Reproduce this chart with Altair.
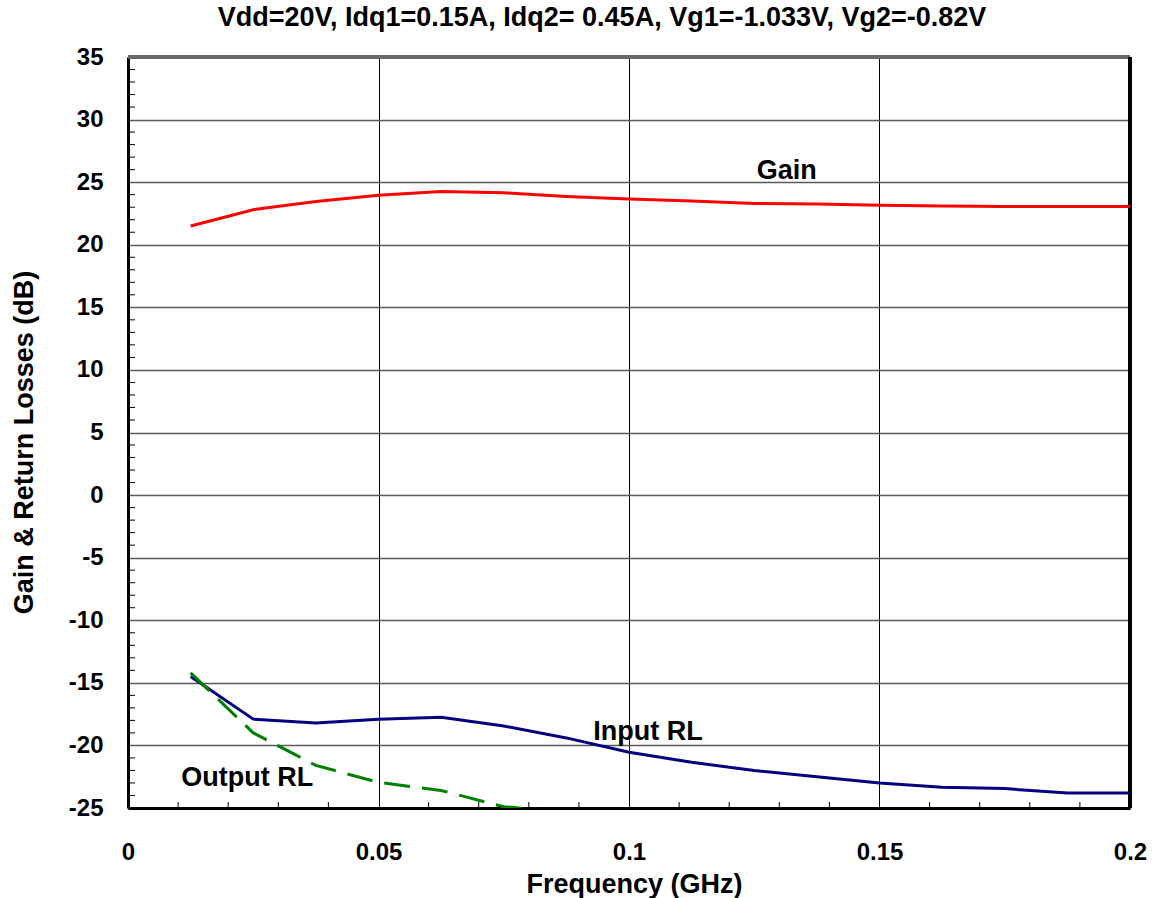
import altair as alt
import pandas as pd

# ---- data ----
freq = [0.0125, 0.025, 0.0375, 0.05, 0.0625, 0.075, 0.0875, 0.1,
        0.1125, 0.125, 0.1375, 0.15, 0.1625, 0.175, 0.1875, 0.2]
gain = [21.5, 22.8, 23.45, 23.95, 24.25, 24.15, 23.85, 23.65,
        23.5, 23.3, 23.25, 23.15, 23.1, 23.05, 23.05, 23.05]
input_rl = [-14.5, -17.9, -18.2, -17.9, -17.75, -18.45, -19.4, -20.55,
            -21.35, -22.0, -22.5, -23.0, -23.35, -23.45, -23.8, -23.8]
output_freq = [0.0125, 0.025, 0.0375, 0.05, 0.0625, 0.075, 0.0875]
output_rl = [-14.2, -19.0, -21.6, -22.95, -23.6, -24.9, -25.3]

label_text = ["Gain", "Input RL", "Output RL"]
label_x = [0.1315, 0.1038, 0.0238]
label_y = [25.9, -18.9, -22.6]

x_ticks = [0, 0.05, 0.1, 0.15, 0.2]
y_ticks = [-25, -20, -15, -10, -5, 0, 5, 10, 15, 20, 25, 30, 35]
x_minor = [0.01, 0.02, 0.03, 0.04, 0.06, 0.07, 0.08, 0.09, 0.11, 0.12,
           0.13, 0.14, 0.16, 0.17, 0.18, 0.19]
y_minor = [v for v in range(-24, 35) if v % 5 != 0]

title_text = "Vdd=20V, Idq1=0.15A, Idq2= 0.45A, Vg1=-1.033V, Vg2=-0.82V"

W, H = 1002, 751
FONT = "Liberation Sans"

main_df = pd.DataFrame({"f": freq, "gain": gain, "inp": input_rl})
out_df = pd.DataFrame({"f": output_freq, "out": output_rl})
lab_df = pd.DataFrame({"t": label_text, "x": label_x, "y": label_y})
xm_df = pd.DataFrame({"v": x_minor})
ym_df = pd.DataFrame({"v": y_minor})

xscale = alt.Scale(domain=[0, 0.2], nice=False, zero=False)
yscale = alt.Scale(domain=[-25, 35], nice=False, zero=False)

xaxis = alt.Axis(values=x_ticks, format=".2~f", grid=True, gridColor="black",
                 gridWidth=1, gridOpacity=1, domain=True, domainColor="black",
                 domainWidth=3, ticks=False, labelPadding=32, labelFontSize=24,
                 labelFont=FONT, labelFontWeight="bold", labelColor="black",
                 labelFlush=False, title="Frequency (GHz)", titleFont=FONT,
                 titleFontSize=27, titleFontWeight="bold", titleColor="black",
                 titleX=506, titleY=84, titleBaseline="alphabetic")
yaxis = alt.Axis(values=y_ticks, labelExpr="'' + datum.value", grid=True,
                 gridColor="#5a5a5a", gridWidth=1.5,
                 gridOpacity=1, domain=True, domainColor="black", domainWidth=3,
                 ticks=False, labelPadding=25, labelFontSize=24, labelFont=FONT,
                 labelFontWeight="bold", labelColor="black", labelFlush=False,
                 title="Gain & Return Losses (dB)", titleFont=FONT,
                 titleFontSize=27, titleFontWeight="bold", titleColor="black",
                 titleX=-96, titleY=385, titleBaseline="alphabetic")

base = alt.Chart(main_df)

gain_line = base.mark_line(color="#ff0000", strokeWidth=3).encode(
    x=alt.X("f:Q", scale=xscale, axis=xaxis),
    y=alt.Y("gain:Q", scale=yscale, axis=yaxis),
)
inp_line = base.mark_line(color="#000080", strokeWidth=3).encode(
    x=alt.X("f:Q", scale=xscale),
    y=alt.Y("inp:Q", scale=yscale),
)
out_line = alt.Chart(out_df).mark_line(color="#008000", strokeWidth=3,
                                       strokeDash=[26, 12], clip=True).encode(
    x=alt.X("f:Q", scale=xscale),
    y=alt.Y("out:Q", scale=yscale),
)
labels = alt.Chart(lab_df).mark_text(font=FONT, fontSize=27, fontWeight="bold",
                                     color="black", align="center",
                                     baseline="middle").encode(
    x=alt.X("x:Q", scale=xscale),
    y=alt.Y("y:Q", scale=yscale),
    text="t:N",
)
x_minor_ticks = alt.Chart(xm_df).mark_rule(color="black", strokeWidth=1).encode(
    x=alt.X("v:Q", scale=xscale),
    y=alt.value(H - 6),
    y2=alt.value(H),
)
y_minor_ticks = alt.Chart(ym_df).mark_rule(color="black", strokeWidth=1).encode(
    y=alt.Y("v:Q", scale=yscale),
    x=alt.value(0),
    x2=alt.value(7),
)
right_border = alt.Chart(main_df).mark_rule(color="black", strokeWidth=3).encode(
    x=alt.value(W), y=alt.value(0), y2=alt.value(H)
)
top_border = alt.Chart(main_df).mark_rule(color="#6a6a6a", strokeWidth=2.5).encode(
    x=alt.value(0), x2=alt.value(W), y=alt.value(0)
)

chart = alt.layer(
    x_minor_ticks, y_minor_ticks, top_border, right_border,
    gain_line, inp_line, out_line, labels
).properties(
    width=W, height=H,
    title=alt.TitleParams(text=title_text, font=FONT, fontSize=27,
                          fontWeight="bold", color="black", anchor="middle",
                          frame="group", dx=-27, offset=13),
    autosize=alt.AutoSizeParams(type="none"),
    padding={"left": 128, "top": 57, "right": 24, "bottom": 90},
).configure_view(stroke=None)

chart.save("out.html", embed_options={"renderer": "svg", "actions": False})
